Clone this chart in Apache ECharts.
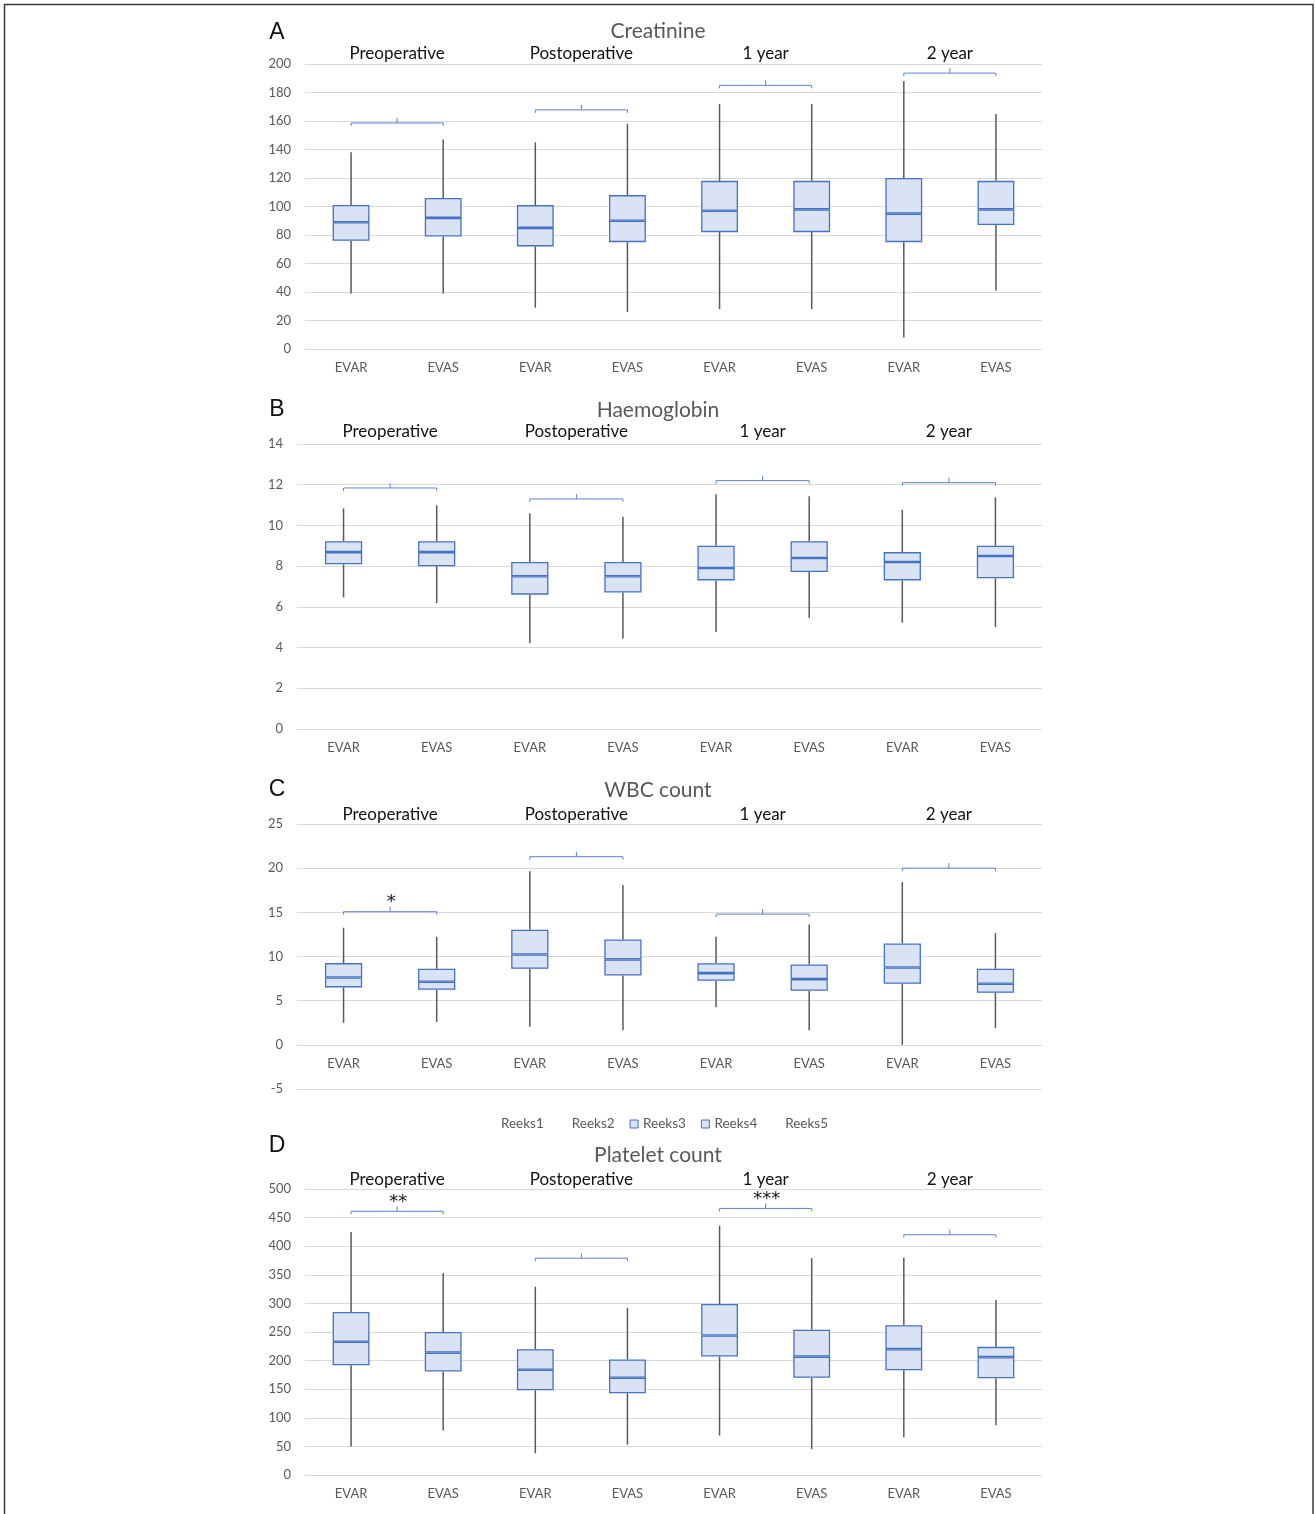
<!DOCTYPE html>
<html>
<head>
<meta charset="utf-8">
<script src="https://cdn.jsdelivr.net/npm/echarts@6/dist/echarts.min.js"></script>
<style>
  html, body { margin: 0; padding: 0; background: #fff; }
  #main { width: 1316px; height: 1514px; }
</style>
</head>
<body>
<div id="main"></div>
<script>
// categories and group labels
const categories = ['EVAR', 'EVAS', 'EVAR', 'EVAS', 'EVAR', 'EVAS', 'EVAR', 'EVAS'];
const periods = ['Preoperative', 'Postoperative', '1 year', '2 year'];
const legendNames = ['Reeks1', 'Reeks2', 'Reeks3', 'Reeks4', 'Reeks5'];

// each box: [low, q1, median, q3, high]
const creatinineBoxes = [
  [39, 76, 89, 101, 138], [39, 79, 92, 106, 147],
  [29, 72, 85, 101, 145], [26, 75, 90, 108, 158],
  [28, 82, 97, 118, 172], [28, 82, 98, 118, 172],
  [8, 75, 95, 120, 188], [41, 87, 98, 118, 165]
];
const creatinineBrackets = [158.6, 167.8, 185, 193.6];
const creatinineStars = ['', '', '', ''];

const haemoglobinBoxes = [
  [6.47, 8.09, 8.69, 9.22, 10.84], [6.19, 7.99, 8.69, 9.22, 10.99],
  [4.21, 6.6, 7.5, 8.2, 10.58], [4.44, 6.7, 7.5, 8.2, 10.43],
  [4.77, 7.3, 7.91, 9.0, 11.53], [5.45, 7.71, 8.4, 9.22, 11.43],
  [5.22, 7.3, 8.2, 8.69, 10.77], [5.01, 7.4, 8.5, 9.0, 11.38]
];
const haemoglobinBrackets = [11.84, 11.3, 12.2, 12.1];
const haemoglobinStars = ['', '', '', ''];

const wbcBoxes = [
  [2.49, 6.5, 7.63, 9.25, 13.26], [2.6, 6.23, 7.14, 8.61, 12.24],
  [2.04, 8.61, 10.23, 13.03, 19.64], [1.66, 7.85, 9.67, 11.93, 18.09],
  [4.27, 7.25, 8.12, 9.25, 12.24], [1.66, 6.12, 7.44, 9.1, 13.63],
  [0, 6.91, 8.76, 11.48, 18.43], [1.89, 5.89, 6.91, 8.61, 12.65]
];
const wbcBrackets = [15.07, 21.3, 14.8, 20.0];
const wbcStars = ['*', '', '', ''];

const plateletBoxes = [
  [50, 192, 233, 285, 425], [78, 181, 214, 250, 353],
  [38, 148, 184, 220, 329], [53, 143, 170, 202, 292],
  [69, 207, 244, 299, 436], [45, 170, 207, 254, 379],
  [66, 183, 220, 262, 380], [87, 169, 206, 224, 306]
];
const plateletBrackets = [461, 379, 466, 420];
const plateletStars = ['**', '', '***', ''];

const FONT = 'Lato, "Open Sans", sans-serif';
const GREY = '#595959';
const GRID_LINE = '#d9d9d9';
const BOX_FILL = '#dae3f3';
const BOX_EDGE = '#4472c4';

// labelShift: how far the category labels sit above the grid bottom (panel C has its axis at 0)
const panels = [
  { letter: 'A', title: 'Creatinine', boxes: creatinineBoxes, brackets: creatinineBrackets, stars: creatinineStars,
    min: 0, max: 200, interval: 20, left: 305, top: 64, height: 285, titleY: 31, letterY: 33, labelGap: 10, labelShift: 0 },
  { letter: 'B', title: 'Haemoglobin', boxes: haemoglobinBoxes, brackets: haemoglobinBrackets, stars: haemoglobinStars,
    min: 0, max: 14, interval: 2, left: 297, top: 444, height: 285, titleY: 410, letterY: 410, labelGap: 12, labelShift: 0 },
  { letter: 'C', title: 'WBC count', boxes: wbcBoxes, brackets: wbcBrackets, stars: wbcStars,
    min: -5, max: 25, interval: 5, left: 297, top: 824, height: 265, titleY: 790, letterY: 790, labelGap: 9, labelShift: 44 },
  { letter: 'D', title: 'Platelet count', boxes: plateletBoxes, brackets: plateletBrackets, stars: plateletStars,
    min: 0, max: 500, interval: 50, left: 305, top: 1189, height: 286, titleY: 1155, letterY: 1146, labelGap: 9, labelShift: 0 }
];

function whisker(params, api) {
  const lo = api.coord([api.value(0), api.value(1)]);
  const hi = api.coord([api.value(0), api.value(2)]);
  return {
    type: 'line',
    shape: { x1: lo[0], y1: lo[1], x2: hi[0], y2: hi[1] },
    style: { stroke: GREY, lineWidth: 1.5 }
  };
}

function bracketRenderer(p) {
  return function (params, api) {
    const k = params.dataIndex;
    const a = api.coord([api.value(0), api.value(1)]);
    const b = api.coord([api.value(0) + 1, api.value(1)]);
    const mid = (a[0] + b[0]) / 2;
    const y = a[1];
    const top = params.coordSys.y;
    const children = [
      { type: 'polyline', shape: { points: [[a[0], y + 3], [a[0], y], [b[0], y], [b[0], y + 3]] },
        style: { stroke: '#5b83cc', lineWidth: 1, fill: null } },
      { type: 'line', shape: { x1: mid, y1: y, x2: mid, y2: y - 5 },
        style: { stroke: '#5b83cc', lineWidth: 1 } },
      { type: 'text', x: mid, y: top - p.labelGap,
        style: { text: periods[k], fill: '#111', font: '17px ' + FONT,
                 align: 'center', verticalAlign: 'middle', textAlign: 'center', textVerticalAlign: 'middle' } }
    ];
    if (p.stars[k]) {
      children.push({ type: 'text', x: mid + 1, y: y - 9,
        style: { text: p.stars[k], fill: '#111', font: '18px "DejaVu Sans", sans-serif',
                 align: 'center', verticalAlign: 'middle', textAlign: 'center', textVerticalAlign: 'middle' } });
    }
    return { type: 'group', children: children };
  };
}

const grids = [], xAxes = [], yAxes = [], series = [], graphics = [];

graphics.push({ type: 'rect', shape: { x: 4.5, y: 4.5, width: 1308.5, height: 1540 },
  style: { fill: null, stroke: '#3a3a3a', lineWidth: 1.5 }, silent: true });

panels.forEach(function (p, i) {
  grids.push({ left: p.left, right: 274, top: p.top, height: p.height });
  xAxes.push({
    type: 'category', gridIndex: i, data: categories,
    axisLine: { show: true, onZero: false, lineStyle: { color: GRID_LINE } },
    axisTick: { show: false },
    axisLabel: { color: GREY, fontSize: 13, fontFamily: FONT, margin: 12 - p.labelShift }
  });
  yAxes.push({
    type: 'value', gridIndex: i, min: p.min, max: p.max, interval: p.interval,
    axisLine: { show: false }, axisTick: { show: false },
    splitLine: { lineStyle: { color: GRID_LINE, width: 1 } },
    axisLabel: { color: GREY, fontSize: 13, fontFamily: FONT, margin: 14 }
  });

  const stack = 'box' + i;
  const boxStyle = { color: BOX_FILL, borderColor: BOX_EDGE, borderWidth: 1.3 };
  series.push({ name: 'Reeks1', type: 'bar', stack: stack, xAxisIndex: i, yAxisIndex: i, barWidth: '40%',
    data: p.boxes.map(b => b[1]), itemStyle: { color: 'rgba(0,0,0,0)' }, silent: true });
  series.push({ name: 'Reeks2', type: 'custom', xAxisIndex: i, yAxisIndex: i, z: 1,
    data: p.boxes.map((b, k) => [k, b[0], b[1]]), encode: { x: 0, y: [1, 2] },
    renderItem: whisker, itemStyle: { color: 'rgba(0,0,0,0)' }, silent: true });
  series.push({ name: 'Reeks3', type: 'bar', stack: stack, xAxisIndex: i, yAxisIndex: i, barWidth: '40%',
    data: p.boxes.map(b => b[2] - b[1]), itemStyle: boxStyle, silent: true });
  series.push({ name: 'Reeks4', type: 'bar', stack: stack, xAxisIndex: i, yAxisIndex: i, barWidth: '40%',
    data: p.boxes.map(b => b[3] - b[2]), itemStyle: boxStyle, silent: true });
  series.push({ name: 'Reeks5', type: 'custom', xAxisIndex: i, yAxisIndex: i, z: 1,
    data: p.boxes.map((b, k) => [k, b[3], b[4]]), encode: { x: 0, y: [1, 2] },
    renderItem: whisker, itemStyle: { color: 'rgba(0,0,0,0)' }, silent: true });
  series.push({ name: 'brackets' + i, type: 'custom', xAxisIndex: i, yAxisIndex: i, z: 3, clip: false,
    data: p.brackets.map((v, k) => [2 * k, v]), encode: { x: 0, y: 1 },
    renderItem: bracketRenderer(p), silent: true });

  graphics.push({ type: 'text', x: 658, y: p.titleY, silent: true,
    style: { text: p.title, fill: GREY, font: '21px ' + FONT,
             align: 'center', verticalAlign: 'middle', textAlign: 'center', textVerticalAlign: 'middle' } });
  graphics.push({ type: 'text', x: 277, y: p.letterY, silent: true,
    style: { text: p.letter, fill: '#111', font: '23px "Liberation Sans", Arial, sans-serif',
             align: 'center', verticalAlign: 'middle', textAlign: 'center', textVerticalAlign: 'middle' } });
});

const hidden = { color: 'rgba(0,0,0,0)', borderWidth: 0 };
const shown = { color: BOX_FILL, borderColor: BOX_EDGE, borderWidth: 1 };

const chart = echarts.init(document.getElementById('main'));
chart.setOption({
  animation: false,
  backgroundColor: '#fff',
  grid: grids,
  xAxis: xAxes,
  yAxis: yAxes,
  legend: {
    top: 1112, left: 'center', itemWidth: 8, itemHeight: 8, itemGap: 15, selectedMode: false,
    textStyle: { color: GREY, fontSize: 13.5, fontFamily: FONT },
    data: legendNames.map(n => ({
      name: n, icon: 'rect',
      itemStyle: (n === 'Reeks3' || n === 'Reeks4') ? shown : hidden
    }))
  },
  graphic: graphics,
  series: series
});
</script>
</body>
</html>
